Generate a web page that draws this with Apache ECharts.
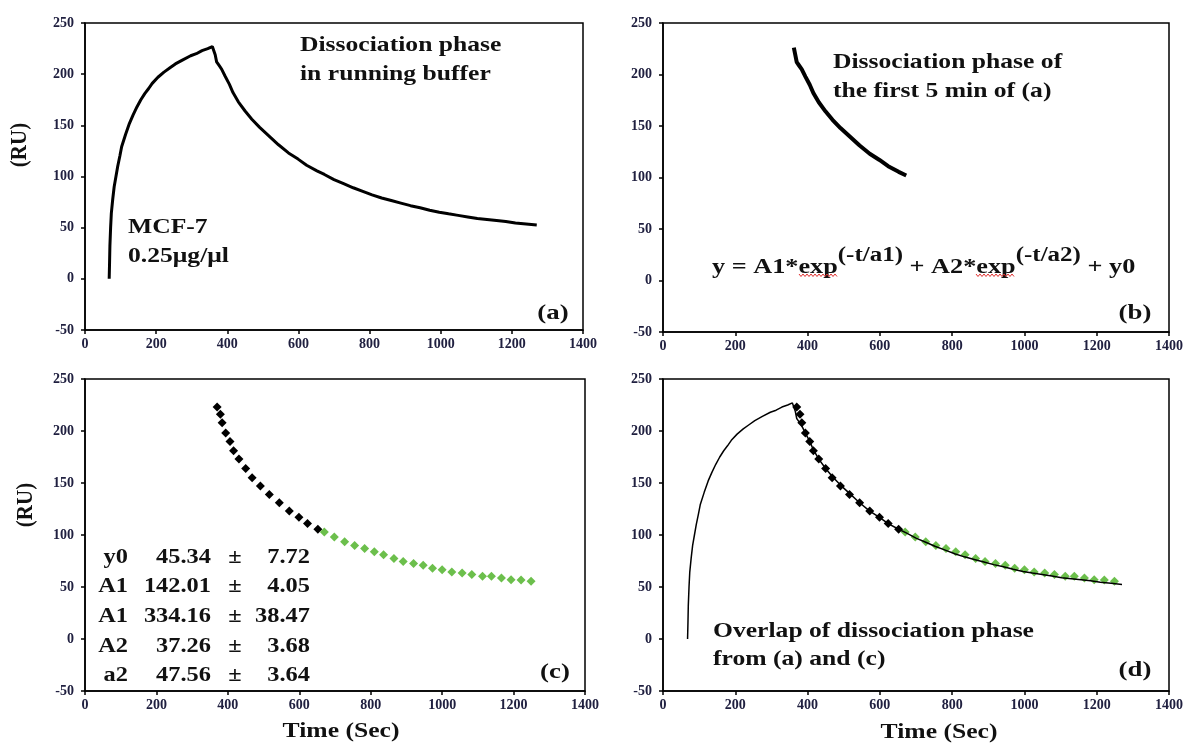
<!DOCTYPE html>
<html>
<head>
<meta charset="utf-8">
<title>MCF-7 dissociation phase</title>
<script src="https://cdn.jsdelivr.net/npm/echarts@6/dist/echarts.min.js"></script>
<style>
html, body { margin: 0; padding: 0; background: #fff; }
#main { width: 1187px; height: 744px; }
</style>
</head>
<body>
<div id="main"></div>
<script>
// sensorgram of MCF-7 0.25ug/ul : association then dissociation in running buffer
var sensorTime = [68, 69, 70, 72, 74, 78, 82, 87, 92, 98, 103, 114, 125, 135, 146, 157, 168, 179, 189, 205, 222, 238, 254, 275, 297, 313, 329, 345, 358,
    362, 366, 370, 376, 384, 394, 406, 416, 431, 450, 469, 491, 516, 544, 572, 599, 623, 652, 673, 700, 727, 754, 781, 807, 834, 861, 888, 915, 942, 969, 996, 1022, 1049, 1076, 1103, 1130, 1157, 1183, 1210, 1240, 1270];
var sensorRU = [0, 15, 32, 50, 64, 78, 90, 100, 110, 120, 129, 141, 152, 160, 168, 175, 181, 186, 191, 197, 202, 206, 210, 214, 218, 220, 223, 225, 227,
    226, 219, 212, 209, 205, 198, 190, 182, 173, 164, 156, 148, 140, 131, 123, 117, 111, 105.5, 102, 97, 93, 89, 85.5, 82, 79, 76.5, 74, 71.5, 69.5, 67, 65, 63.5, 62, 60.5, 59, 58, 57, 56, 54.5, 53.5, 52.5];

// first 5 min of the dissociation (panel b)
var firstStart = 362, firstEnd = 673;

// fitted points (panel c)
var fitEarlyTime = [370, 379, 384, 394, 406, 416, 431, 450, 468, 491, 516, 544, 572, 599, 623, 652];
var fitEarlyRU = [223, 216, 208, 198, 190, 181, 173, 164, 155, 147, 139, 131, 123, 117, 111, 105.5];
var fitLateTime = [670, 698, 727, 755, 783, 810, 836, 865, 891, 920, 947, 973, 1000, 1027, 1056, 1083, 1113, 1138, 1166, 1193, 1221, 1249];
var fitLateRU = [103, 98, 93.5, 90, 87, 84, 81, 77.5, 74.5, 72.5, 71, 68, 66.5, 64.5, 63.5, 62, 60.3, 60.3, 58.7, 57, 56.8, 55.5];

// fit parameters
var fitParams = ['y0', 'A1', 'A1', 'A2', 'a2'];
var fitValues = ['45.34', '142.01', '334.16', '37.26', '47.56'];
var fitErrors = ['7.72', '4.05', '38.47', '3.68', '3.64'];

var serif = '"Liberation Serif", "Times New Roman", serif';
var tickColor = '#202040';
var green = '#6cbf4c';
var wide = 1.22; // the figure text is stretched sideways

function pairs(xs, ys) {
    var out = [];
    for (var i = 0; i < xs.length; i++) out.push([xs[i], ys[i]]);
    return out;
}

var sensorData = pairs(sensorTime, sensorRU);
var firstData = sensorData.filter(function (p) { return p[0] >= firstStart && p[0] <= firstEnd; });

function xAx(i) {
    return {
        type: 'value', gridIndex: i, min: 0, max: 1400, interval: 200,
        axisLine: { show: true, onZero: false, lineStyle: { color: '#000', width: 1.5 } },
        axisTick: { show: true, length: 4, lineStyle: { color: '#000', width: 1.5 } },
        axisLabel: { margin: 7, color: tickColor, fontFamily: serif, fontWeight: 'bold', fontSize: 14, formatter: function (v) { return String(v); } },
        splitLine: { show: false }
    };
}
function yAx(i) {
    return {
        type: 'value', gridIndex: i, min: -50, max: 250, interval: 50,
        axisLine: { show: true, onZero: false, lineStyle: { color: '#000', width: 1.5 } },
        axisTick: { show: true, length: 4, lineStyle: { color: '#000', width: 1.5 } },
        axisLabel: { margin: 11, color: tickColor, fontFamily: serif, fontWeight: 'bold', fontSize: 14 },
        splitLine: { show: false }
    };
}
function box(l, t, w, h) {
    return { left: l, top: t, width: w, height: h, show: true, borderColor: '#000', borderWidth: 1.5, backgroundColor: 'transparent' };
}
function txt(x, y, s, size, align, rot) {
    return {
        type: 'text', x: x, y: y, rotation: rot || 0, z: 100,
        scaleX: rot ? 1 : wide, scaleY: rot ? 1.12 : 1,
        style: { text: s, fill: '#111', font: 'bold ' + size + 'px ' + serif, align: align || 'left', verticalAlign: 'middle' }
    };
}
// red spell-check squiggle under a word
function squiggle(x0, x1, y) {
    var pts = [];
    for (var x = x0, k = 0; x <= x1; x += 2, k++) pts.push([x, y + (k % 2 ? 1.5 : -1)]);
    return { type: 'polyline', z: 100, shape: { points: pts }, style: { stroke: '#e03030', lineWidth: 1, fill: null } };
}

var texts = [
    // (a)
    txt(300, 46, 'Dissociation phase', 21), txt(300, 75, 'in running buffer', 21),
    txt(128, 228, 'MCF-7', 21), txt(128, 257, '0.25μg/μl', 21),
    txt(553, 313, '(a)', 22, 'center'),
    // (b)
    txt(833, 63, 'Dissociation phase of', 21), txt(833, 92, 'the first 5 min of (a)', 21),
    txt(1135, 313, '(b)', 22, 'center'),
    {
        type: 'text', x: 712, y: 262, z: 100, scaleX: 1.25,
        style: {
            text: '{m|y = A1*exp}{s|(-t/a1)}{m| + A2*exp}{s|(-t/a2)}{m| + y0}',
            verticalAlign: 'middle',
            rich: {
                m: { fontFamily: serif, fontWeight: 'bold', fontSize: 21, fill: '#111', verticalAlign: 'bottom' },
                s: { fontFamily: serif, fontWeight: 'bold', fontSize: 20, fill: '#111', lineHeight: 32, verticalAlign: 'top' }
            }
        }
    },
    squiggle(799, 837, 275), squiggle(976, 1014, 275),
    // (c)
    txt(555, 672, '(c)', 22, 'center'),
    // (d)
    txt(713, 632, 'Overlap of dissociation phase', 21), txt(713, 660, 'from (a) and (c)', 21),
    txt(1135, 670, '(d)', 22, 'center'),
    // axis titles
    txt(20, 145, '(RU)', 21, 'center', Math.PI / 2),
    txt(26, 505, '(RU)', 21, 'center', Math.PI / 2),
    txt(341, 732, 'Time (Sec)', 21, 'center'),
    txt(939, 733, 'Time (Sec)', 21, 'center')
];

// fit table in panel (c)
var rowY = [558, 587, 617, 647, 676];
fitParams.forEach(function (p, i) {
    texts.push(txt(128, rowY[i], p, 20, 'right'));
    texts.push(txt(211, rowY[i], fitValues[i], 20, 'right'));
    texts.push(txt(235, rowY[i], '±', 20, 'center'));
    texts.push(txt(310, rowY[i], fitErrors[i], 20, 'right'));
});

var chart = echarts.init(document.getElementById('main'));
chart.setOption({
    animation: false,
    backgroundColor: '#fff',
    grid: [box(85, 23, 498, 307), box(663, 23, 506, 309), box(85, 379, 500, 312), box(663, 379, 506, 312)],
    xAxis: [xAx(0), xAx(1), xAx(2), xAx(3)],
    yAxis: [yAx(0), yAx(1), yAx(2), yAx(3)],
    graphic: texts,
    series: [
        { type: 'line', xAxisIndex: 0, yAxisIndex: 0, data: sensorData, showSymbol: false, lineStyle: { color: '#000', width: 3 } },
        { type: 'line', xAxisIndex: 1, yAxisIndex: 1, data: firstData, showSymbol: false, lineStyle: { color: '#000', width: 4 } },
        { type: 'scatter', xAxisIndex: 2, yAxisIndex: 2, data: pairs(fitEarlyTime, fitEarlyRU), symbol: 'diamond', symbolSize: 9, itemStyle: { color: '#000', opacity: 1 } },
        { type: 'scatter', xAxisIndex: 2, yAxisIndex: 2, data: pairs(fitLateTime, fitLateRU), symbol: 'diamond', symbolSize: 9, itemStyle: { color: green, opacity: 1 } },
        { type: 'scatter', xAxisIndex: 3, yAxisIndex: 3, data: pairs(fitEarlyTime, fitEarlyRU), symbol: 'diamond', symbolSize: 9, itemStyle: { color: '#000', opacity: 1 } },
        { type: 'scatter', xAxisIndex: 3, yAxisIndex: 3, data: pairs(fitLateTime, fitLateRU), symbol: 'diamond', symbolSize: 9, itemStyle: { color: green, opacity: 1 } },
        { type: 'line', xAxisIndex: 3, yAxisIndex: 3, data: sensorData, showSymbol: false, lineStyle: { color: '#000', width: 1.5 } }
    ]
});
window.addEventListener('resize', function () { chart.resize(); });
</script>
</body>
</html>
